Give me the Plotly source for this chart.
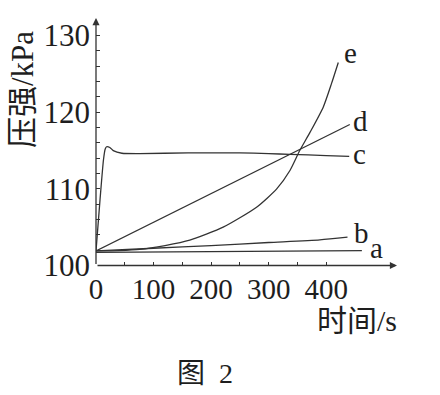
import plotly.graph_objects as go

# ---- data ----
a_t = [0, 462]
a_p = [101.7, 101.95]

b_t = [0, 100, 200, 300, 389, 437]
b_p = [101.9, 102.25, 102.6, 103.0, 103.35, 103.7]

c_t = [0, 7, 13, 16, 18.5, 24, 30, 45, 76, 160, 250, 300, 337, 400, 440]
c_p = [101.9, 108.6, 113.8, 115.2, 115.5, 115.4, 115.0, 114.65, 114.6, 114.7, 114.7, 114.6, 114.5, 114.35, 114.25]

d_t = [0, 441]
d_p = [101.9, 118.4]

e_t = [0, 40, 76, 120, 163, 221, 279, 314, 337, 354, 372, 395, 409, 421]
e_p = [101.9, 101.95, 102.1, 102.6, 103.3, 105.0, 107.6, 110.0, 112.4, 115.0, 117.4, 120.7, 123.7, 126.5]

series_names = ["a", "b", "c", "d", "e"]
label_t = [488, 462, 458, 459, 442]
label_p = [102.3, 104.2, 114.6, 118.8, 127.7]

x_tickvals = [0, 50, 100, 150, 200, 250, 300, 350, 400]
x_ticktext = ["0", "", "100", "", "200", "", "300", "", "400"]
y_tickvals = [100, 102, 104, 106, 108, 110, 112, 114, 116, 118, 120, 122, 124, 126, 128, 130]
y_ticktext = ["100", "", "", "", "", "110", "", "", "", "", "120", "", "", "", "", "130"]

x_max = 523
y_min, y_max = 100, 132.3

x_title = "时间/s"
y_title = "压强/kPa"
caption = "图  2"

# ---- figure ----
FONT = "Liberation Serif, Noto Sans CJK SC, serif"
INK = "#1e1e1e"

fig = go.Figure()
curves = [(a_t, a_p, "linear"), (b_t, b_p, "spline"), (c_t, c_p, "spline"),
          (d_t, d_p, "linear"), (e_t, e_p, "spline")]
for (t, p, shape), name in zip(curves, series_names):
    fig.add_trace(go.Scatter(x=t, y=p, mode="lines", name=name,
                             line=dict(color="#333333", width=1.3, shape=shape, smoothing=0.6),
                             showlegend=False, hoverinfo="skip"))

annotations = []
for name, t, p in zip(series_names, label_t, label_p):
    annotations.append(dict(x=t, y=p, xref="x", yref="y", text=name, showarrow=False,
                            font=dict(family=FONT, size=29, color=INK),
                            xanchor="center", yanchor="middle"))

# axis lines with arrow heads
annotations.append(dict(x=x_max, y=y_min, ax=0, ay=y_min, xref="x", yref="y",
                        axref="x", ayref="y", text="", showarrow=True,
                        arrowhead=2, arrowsize=1.1, arrowwidth=1.3, arrowcolor="#333333"))
annotations.append(dict(x=0, y=y_max, ax=0, ay=y_min, xref="x", yref="y",
                        axref="x", ayref="y", text="", showarrow=True,
                        arrowhead=2, arrowsize=1.1, arrowwidth=1.3, arrowcolor="#333333"))

annotations.append(dict(x=22 / 440, y=(395 - 90) / 395, xref="paper", yref="paper",
                        text=y_title, textangle=-90, showarrow=False,
                        font=dict(family=FONT, size=31, color=INK),
                        xanchor="center", yanchor="middle"))
annotations.append(dict(x=357 / 440, y=(395 - 320) / 395, xref="paper", yref="paper",
                        text=x_title, showarrow=False,
                        font=dict(family=FONT, size=30, color=INK),
                        xanchor="center", yanchor="middle"))
annotations.append(dict(x=205 / 440, y=(395 - 373) / 395, xref="paper", yref="paper",
                        text=caption, showarrow=False,
                        font=dict(family=FONT, size=28, color=INK),
                        xanchor="center", yanchor="middle"))

fig.update_layout(
    template="none",
    width=440, height=395,
    margin=dict(l=0, r=0, t=0, b=0, pad=0),
    paper_bgcolor="white", plot_bgcolor="white",
    annotations=annotations,
    xaxis=dict(range=[0, x_max], domain=[96 / 440, 397 / 440], automargin=False,
               showgrid=False, zeroline=False, showline=False,
               tickmode="array", tickvals=x_tickvals, ticktext=x_ticktext,
               ticks="inside", ticklen=4, tickwidth=1.2, tickcolor="#333333",
               ticklabelstandoff=3,
               tickfont=dict(family=FONT, size=29, color=INK)),
    yaxis=dict(range=[y_min, y_max], domain=[(395 - 265.5) / 395, (395 - 18) / 395],
               automargin=False,
               showgrid=False, zeroline=False, showline=False,
               tickmode="array", tickvals=y_tickvals, ticktext=y_ticktext,
               ticks="inside", ticklen=4, tickwidth=1.2, tickcolor="#333333",
               ticklabelstandoff=5,
               tickfont=dict(family=FONT, size=31, color=INK)),
)

fig.write_html("out.html")
